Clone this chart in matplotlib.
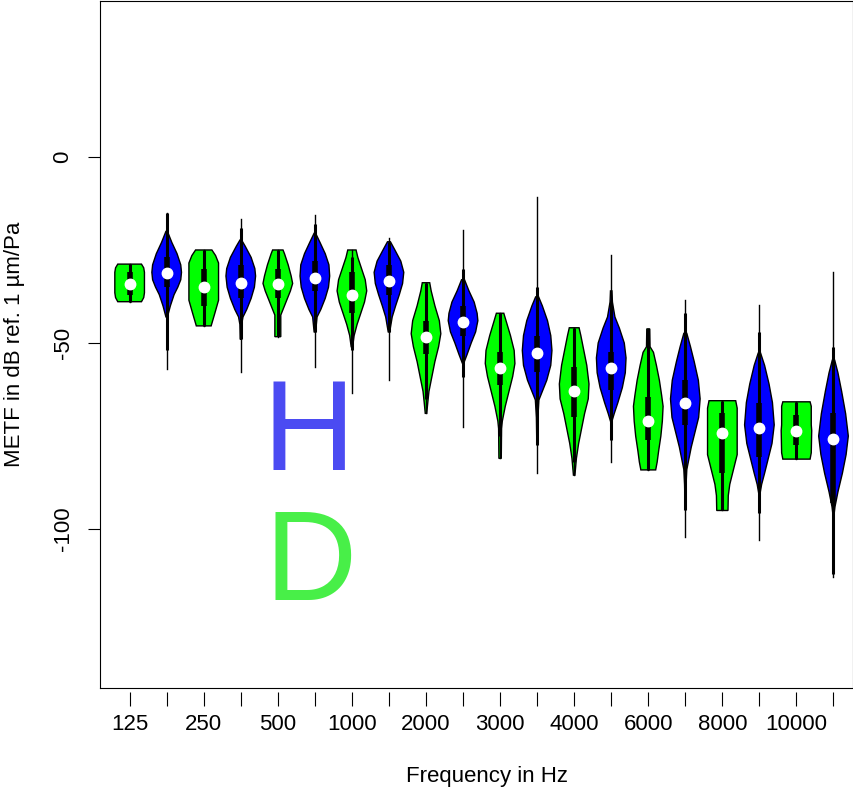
import matplotlib.pyplot as plt

plt.rcParams["font.family"] = ["Liberation Sans", "DejaVu Sans"]

# x tick labels (labels only on every other position)
tick_labels = ["125", "250", "500", "1000", "2000", "3000", "4000", "6000", "8000", "10000"]

# per-violin summary values (dB)
medians = [-34.1, -31.1, -34.9, -33.8, -34.1, -32.5, -37.1, -33.3, -48.4, -44.4,
           -56.7, -52.6, -62.9, -56.6, -71.0, -66.2, -74.1, -72.8, -73.7, -75.8]
line_hi = [-28.8, -15.0, -25.0, -16.8, -25.0, -15.6, -25.0, -21.8, -33.8, -19.6,
           -42.0, -10.8, -45.9, -26.3, -46.2, -38.4, -65.5, -39.8, -65.8, -30.8]
line_lo = [-38.9, -57.0, -45.4, -57.8, -48.3, -56.4, -63.5, -60.0, -68.9, -72.6,
           -81.0, -85.0, -85.5, -82.0, -84.1, -102.0, -95.0, -103.0, -81.2, -113.0]
bar_hi = [-28.8, -15.0, -25.0, -19.0, -25.0, -18.0, -27.0, -22.8, -34.0, -30.0,
          -42.0, -35.0, -46.0, -38.4, -46.2, -42.0, -65.5, -47.0, -65.8, -51.0]
bar_lo = [-38.9, -52.0, -45.4, -49.0, -48.0, -47.0, -52.0, -47.0, -65.0, -59.0,
          -75.0, -77.4, -82.0, -76.0, -84.1, -94.9, -95.0, -95.7, -81.2, -112.0]
q3 = [-31.0, -27.0, -30.0, -29.0, -30.0, -28.0, -31.0, -29.0, -44.0, -40.0,
      -52.4, -48.0, -56.4, -52.3, -64.4, -60.0, -68.8, -66.0, -69.4, -68.8]
q1 = [-37.0, -35.0, -40.0, -38.0, -38.0, -36.0, -42.0, -37.0, -53.0, -48.0,
      -61.3, -57.8, -69.8, -62.6, -76.0, -72.0, -85.0, -80.6, -77.4, -93.0]

# violin outlines: y levels (top to bottom) and relative half-widths
profile_y = [
    [-28.8, -29.8, -31, -36.5, -37.8, -38.9],
    [-20, -23, -26, -29, -31, -33, -35, -37, -40, -43],
    [-25, -26.5, -28.5, -38.5, -42, -45.4],
    [-22.3, -24, -27, -30, -32, -35, -38, -41, -43, -45, -49],
    [-25, -26, -29, -32, -34, -36, -39, -41, -42.5, -48.3],
    [-20.5, -23, -26, -29, -32, -35, -38, -41, -43, -47],
    [-25, -27, -30, -33, -36, -39, -42, -45, -48, -51],
    [-22.8, -25, -28, -31, -34, -37, -40, -43, -47],
    [-33.8, -36, -40, -44, -47.5, -51, -55, -59, -63, -66, -68.9],
    [-33, -36, -39, -42, -44, -47, -50, -53, -55.4],
    [-42, -44, -48, -52, -55.5, -59, -63, -67, -71, -73, -81],
    [-37.6, -40, -44, -48, -52, -56, -60, -63, -65.3, -70, -75],
    [-45.9, -48, -52, -56, -61, -65, -69, -73, -77, -81, -85.5],
    [-36, -39, -43, -46, -50, -54, -58, -62, -66, -69, -71],
    [-46.2, -51, -52.5, -56, -60, -64, -67, -71, -75, -79, -82, -84.1],
    [-47.4, -51, -55, -60, -65, -70, -74, -78, -82, -84, -88, -91.7],
    [-65.5, -67.5, -80, -84, -88, -91, -95],
    [-52.7, -56, -61, -66, -72, -77, -81, -85, -88, -90.3],
    [-65.8, -67, -72, -73.5, -79.5, -81.2],
    [-54.6, -58, -63, -69, -75, -80, -85, -90, -94, -95.7],
]
profile_w = [
    [0.8, 0.95, 1.0, 1.0, 0.95, 0.8],
    [0.05, 0.35, 0.7, 0.95, 1.0, 0.95, 0.75, 0.5, 0.25, 0.05],
    [0.55, 0.8, 1.0, 1.0, 0.75, 0.5],
    [0.05, 0.3, 0.7, 0.95, 1.0, 0.92, 0.7, 0.4, 0.15, 0.06, 0.04],
    [0.35, 0.45, 0.7, 0.9, 1.0, 0.85, 0.55, 0.35, 0.2, 0.2],
    [0.05, 0.35, 0.7, 0.95, 1.0, 0.92, 0.7, 0.4, 0.15, 0.05],
    [0.28, 0.4, 0.65, 0.9, 1.0, 0.85, 0.6, 0.35, 0.15, 0.05],
    [0.1, 0.4, 0.8, 1.0, 0.92, 0.7, 0.45, 0.22, 0.05],
    [0.25, 0.35, 0.6, 0.9, 1.0, 0.85, 0.6, 0.4, 0.2, 0.12, 0.05],
    [0.1, 0.4, 0.75, 0.95, 1.0, 0.85, 0.55, 0.28, 0.05],
    [0.25, 0.4, 0.7, 0.95, 1.0, 0.85, 0.6, 0.35, 0.15, 0.1, 0.08],
    [0.1, 0.35, 0.7, 0.92, 1.0, 0.92, 0.65, 0.35, 0.12, 0.05, 0.03],
    [0.33, 0.45, 0.65, 0.85, 1.0, 0.95, 0.7, 0.5, 0.3, 0.15, 0.05],
    [0.05, 0.08, 0.25, 0.55, 0.88, 1.0, 0.95, 0.75, 0.45, 0.2, 0.05],
    [0.1, 0.12, 0.35, 0.55, 0.75, 0.9, 1.0, 0.95, 0.85, 0.7, 0.6, 0.5],
    [0.1, 0.35, 0.6, 0.88, 1.0, 0.9, 0.65, 0.4, 0.2, 0.1, 0.05, 0.03],
    [0.9, 1.0, 1.0, 0.75, 0.5, 0.4, 0.38],
    [0.08, 0.35, 0.65, 0.88, 1.0, 0.85, 0.6, 0.35, 0.15, 0.05],
    [0.92, 1.0, 1.0, 1.03, 1.0, 0.92],
    [0.08, 0.3, 0.55, 0.82, 1.0, 0.85, 0.6, 0.3, 0.1, 0.05],
]

colors = ["#00ff00", "#0000ff"]
half_width = 0.4

fig = plt.figure(figsize=(8.54, 7.92), dpi=100)
ax = fig.add_axes([100 / 854, 104 / 792, 753.5 / 854, 687 / 792])

for i in range(len(medians)):
    pos = i + 1
    ys = profile_y[i]
    ws = profile_w[i]
    xs_right = [pos + w * half_width for w in ws]
    xs_left = [pos - w * half_width for w in ws]
    ax.fill(xs_right + xs_left[::-1], ys + ys[::-1],
            facecolor=colors[i % 2], edgecolor="black", linewidth=1.0, zorder=2)
    ax.plot([pos, pos], [line_lo[i], line_hi[i]], color="black", lw=1.0, zorder=3)
    ax.plot([pos, pos], [bar_lo[i], bar_hi[i]], color="black", lw=2.2,
            solid_capstyle="butt", zorder=3)
    ax.plot([pos, pos], [q1[i], q3[i]], color="black", lw=4.0,
            solid_capstyle="butt", zorder=4)
    ax.plot(pos, medians[i], "o", color="white", ms=7.5, mec="white", zorder=5)

ax.text(5.82, -84.1, "H", color="#4b4bf2", fontsize=92, ha="center", va="baseline")
ax.text(5.88, -119.1, "D", color="#48ef48", fontsize=92, ha="center", va="baseline")

ax.set_xlim(0.2, 20.54)
ax.set_ylim(-142.7, 41.9)

for sp in ax.spines.values():
    sp.set_linewidth(0.8)

ax.set_yticks([0, -50, -100])
ax.set_yticklabels(["0", "-50", "-100"], rotation=90, va="center")
ax.tick_params(axis="y", length=9, width=0.8, pad=10, labelsize=16)
ax.tick_params(axis="x", bottom=False, labelbottom=False)

positions = list(range(1, len(medians) + 1))
labels = []
for k in range(len(medians)):
    labels.append(tick_labels[k // 2] if k % 2 == 0 else "")
sec = ax.secondary_xaxis(-0.006)
sec.set_xticks(positions, labels)
sec.spines["bottom"].set_visible(False)
sec.tick_params(length=10, width=0.8, pad=6, labelsize=16)

ax.set_ylabel("METF in dB ref. 1 \u00b5m/Pa", fontsize=16)
ax.yaxis.set_label_coords(-0.10, 0.5)
ax.set_xlabel("Frequency in Hz", fontsize=16)
ax.xaxis.set_label_coords(0.514, -0.1135)

fig.savefig("out.png", dpi=100)
